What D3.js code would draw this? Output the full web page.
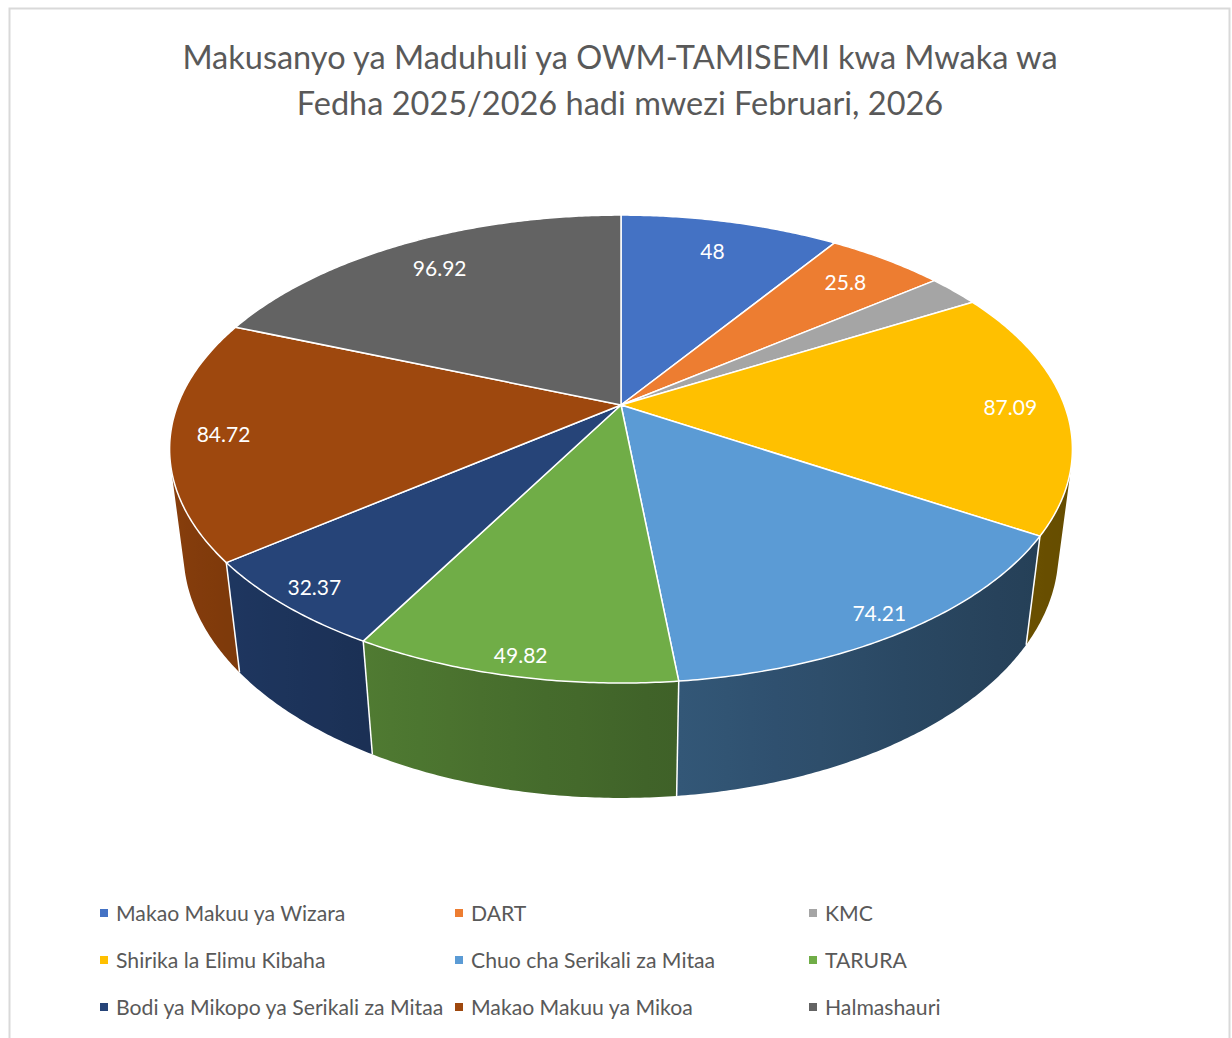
<!DOCTYPE html>
<html>
<head>
<meta charset="utf-8">
<script src="https://d3js.org/d3.v7.min.js"></script>
<style>
	body { margin: 0; background: #fff; }
	text { font-family: Lato, 'Noto Sans', sans-serif; }
</style>
</head>
<body>
<div id="chart"></div>
<script>
// カテゴリ名（凡例の順）
const categories = [
	'Makao Makuu ya Wizara', 'DART', 'KMC',
	'Shirika la Elimu Kibaha', 'Chuo cha Serikali za Mitaa', 'TARURA',
	'Bodi ya Mikopo ya Serikali za Mitaa', 'Makao Makuu ya Mikoa', 'Halmashauri'
];
// 値（KMCはラベルが表示されていないので扇形の角度から推定）
const values = [48, 25.8, 11.5, 87.09, 74.21, 49.82, 32.37, 84.72, 96.92];
// データラベルを表示するか
const showLabels = [true, true, false, true, true, true, true, true, true];
// タイトル（2行）
const titleLines = [
	'Makusanyo ya Maduhuli ya OWM-TAMISEMI kwa Mwaka wa',
	'Fedha 2025/2026 hadi mwezi Februari, 2026'
];

/**
 * 3D円グラフを描画する
 */
function renderChart() {
	const width = 1232;
	const height = 1038;
	const palette = ['#4472C4', '#ED7D31', '#A5A5A5', '#FFC000', '#5B9BD5', '#70AD47', '#264478', '#9E480E', '#636363'];

	const svg = d3.select('#chart')
		.append('svg')
		.attr('width', width)
		.attr('height', height);
	const defs = svg.append('defs');

	// グラフエリアの枠線
	svg.append('rect')
		.attr('x', 9.5)
		.attr('y', 8.5)
		.attr('width', 1220)
		.attr('height', 1100)
		.style('fill', '#fff')
		.style('stroke', '#d9d9d9')
		.style('stroke-width', 2);

	// タイトル
	svg.append('g')
		.selectAll('text')
		.data(titleLines)
		.enter()
		.append('text')
		.attr('x', 620)
		.attr('y', (d, i) => 69 + i * 46)
		.attr('text-anchor', 'middle')
		.style('font-size', '32.5px')
		.style('fill', '#595959')
		.text(d => d);

	// 透視投影のパラメータ
	const cx = 621, cy = 405;
	const elev = 30.6 * Math.PI / 180; // 見下ろし角
	const dist = 4.57; // カメラ距離（半径=1）
	const focal = 2026; // 焦点距離（px）
	const thick = 0.276; // 円柱の厚み

	function project(angle, r, z) {
		const X = r * Math.sin(angle);
		const Y = -r * Math.cos(angle);
		const depth = dist - Y * Math.cos(elev) - z * Math.sin(elev);
		return [cx + focal * X / depth, cy + focal * (Y * Math.sin(elev) - z * Math.cos(elev)) / depth];
	}

	// 側面の明るさ（左から光が当たる）
	function shade(color, angle) {
		const k = 0.65 - 0.25 * Math.sin(angle - 15 * Math.PI / 180);
		const c = d3.rgb(color);
		return d3.rgb(c.r * k, c.g * k, c.b * k).toString();
	}

	const pie = d3.pie().sort(null).value(d => d);
	const arcs = pie(values);
	const step = Math.PI / 360;

	function rimPoints(a0, a1, r, z) {
		const n = Math.max(2, Math.ceil((a1 - a0) / step));
		return d3.range(n + 1).map(i => project(a0 + (a1 - a0) * i / n, r, z));
	}

	// 側面が見える角度の範囲
	const c0 = 1 / (dist * Math.cos(elev));
	const visMin = Math.acos(-c0);
	const visMax = 2 * Math.PI - visMin;

	const line = d3.line();
	const wallLayer = svg.append('g');

	arcs.forEach((a, i) => {
		const a0 = Math.max(a.startAngle, visMin);
		const a1 = Math.min(a.endAngle, visMax);
		if (a1 <= a0) return;
		// 角度に応じたグラデーション（x方向）
		const x1 = project(a0, 1, 0)[0];
		const x2 = project(a1, 1, 0)[0];
		const grad = defs.append('linearGradient')
			.attr('id', 'wall' + i)
			.attr('gradientUnits', 'userSpaceOnUse')
			.attr('x1', x1).attr('y1', 0)
			.attr('x2', x2).attr('y2', 0);
		d3.range(11).forEach(k => {
			const ang = a0 + (a1 - a0) * k / 10;
			grad.append('stop')
				.attr('offset', (project(ang, 1, 0)[0] - x1) / (x2 - x1))
				.attr('stop-color', shade(palette[i], ang));
		});
		const top = rimPoints(a0, a1, 1, 0);
		const bottom = rimPoints(a0, a1, 1, -thick).reverse();
		wallLayer.append('path')
			.attr('d', line(top.concat(bottom)) + 'Z')
			.style('fill', `url(#wall${i})`);
	});

	// 側面の区切り線
	arcs.forEach(a => {
		const ang = a.startAngle;
		if (ang > visMin && ang < visMax) {
			wallLayer.append('path')
				.attr('d', line([project(ang, 1, 0), project(ang, 1, -thick)]))
				.style('stroke', '#fff')
				.style('stroke-width', 1.5);
		}
	});

	// 上面
	svg.append('g')
		.selectAll('path')
		.data(arcs)
		.enter()
		.append('path')
		.attr('d', d => line([[cx, cy]].concat(rimPoints(d.startAngle, d.endAngle, 1, 0))) + 'Z')
		.style('fill', (d, i) => palette[i])
		.style('stroke', '#fff')
		.style('stroke-width', 1.5)
		.style('stroke-linejoin', 'round');

	// データラベル（手前ほど外側に置く）
	svg.append('g')
		.selectAll('text')
		.data(arcs.filter((d, i) => showLabels[i]))
		.enter()
		.append('text')
		.attr('transform', d => {
			const mid = (d.startAngle + d.endAngle) / 2;
			const r = 0.875 - 0.065 * Math.cos(mid);
			const p = project(mid, r, 0);
			return `translate(${p[0]},${p[1]})`;
		})
		.attr('text-anchor', 'middle')
		.attr('dy', '0.35em')
		.style('font-size', '21px')
		.style('fill', '#fff')
		.text(d => d.data);

	// 凡例
	const colX = [100, 455, 809];
	const rowY = [913, 960, 1007];
	const legendItems = svg.append('g')
		.selectAll('g')
		.data(categories)
		.enter()
		.append('g')
		.attr('transform', (d, i) => `translate(${colX[i % 3]},${rowY[Math.floor(i / 3)]})`);

	legendItems.append('rect')
		.attr('x', 0)
		.attr('y', -4)
		.attr('width', 8)
		.attr('height', 8)
		.style('fill', (d, i) => palette[i]);

	legendItems.append('text')
		.attr('x', 16)
		.attr('y', 8)
		.style('font-size', '21.2px')
		.style('fill', '#595959')
		.text(d => d);
}

renderChart();
</script>
</body>
</html>
